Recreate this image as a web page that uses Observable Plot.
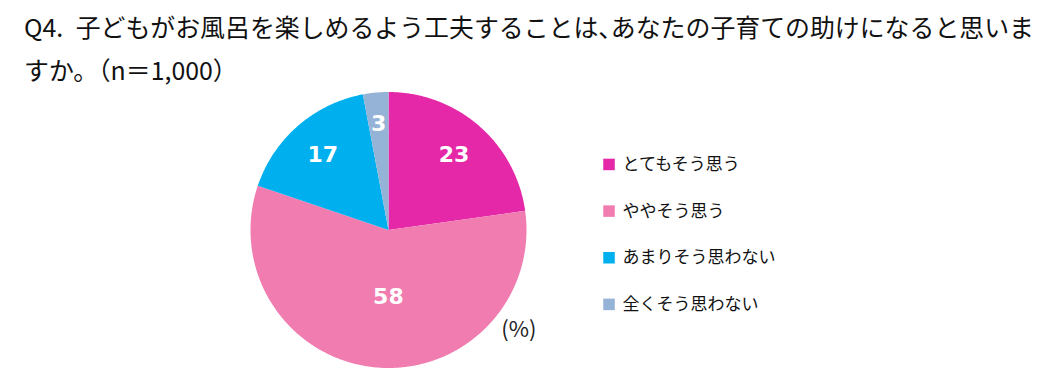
<!DOCTYPE html>
<html><head><meta charset="utf-8">
<script src="https://cdn.jsdelivr.net/npm/d3@7"></script>
<script src="https://cdn.jsdelivr.net/npm/@observablehq/plot@0.6"></script>
<style>
html,body{margin:0;padding:0;background:#fff;}
#title{font-family:"Noto Sans CJK JP","Noto Sans",sans-serif;font-size:24.9px;line-height:43px;color:#111;padding:5px 0 0 24px;height:85px;white-space:pre;box-sizing:content-box;}
#title .h{font-feature-settings:"halt";}
</style>
</head><body>
<div id="title"></div>
<div id="chart"></div>
<script>
const titleLines = ["Q4.\u2002子どもがお風呂を楽しめるよう工夫することは、あなたの子育ての助けになると思いま", "すか。（n＝1,000）"];
const categories = ["とてもそう思う", "ややそう思う", "あまりそう思わない", "全くそう思わない"];
const values = [23, 58, 17, 3];
const colors = ["#E528A8", "#F07CB0", "#00B0EE", "#95B3D7"];
const unitLabel = "(%)";

const esc = s => s.replace(/&/g, "&amp;").replace(/</g, "&lt;");
document.getElementById("title").innerHTML = titleLines
  .map(t => `<div>${esc(t).replace(/、/g, '<span class="h">、</span>')}</div>`).join("");

const arcs = d3.pie().sort(null).value(d => d)(values);
const slices = [];
arcs.forEach((a, i) => {
  slices.push({cat: categories[i], x: 0, y: 0});
  const n = Math.max(2, Math.ceil((a.endAngle - a.startAngle) / (Math.PI / 360)));
  for (let k = 0; k <= n; k++) {
    const t = a.startAngle + (a.endAngle - a.startAngle) * k / n;
    slices.push({cat: categories[i], x: Math.sin(t), y: Math.cos(t)});
  }
});
const labelR = [0.725, 0.49, 0.725, 0.77];
const labelShift = [0, 0.045, 0, 0];
const labels = arcs.map((a, i) => {
  const m = (a.startAngle + a.endAngle) / 2;
  return {text: String(values[i]), x: labelR[i] * Math.sin(m) + labelShift[i], y: labelR[i] * Math.cos(m)};
});
const legend = categories.map((c, i) => ({cat: c, y: 0.475 - 0.338 * i}));

const cx = 388, cy = 139.5, R = 138;
const chart = Plot.plot({
  width: 1057, height: 300,
  margin: 0,
  x: {domain: [-1, 1], range: [cx - R, cx + R], axis: null},
  y: {domain: [-1, 1], range: [cy + R, cy - R], axis: null},
  color: {domain: categories, range: colors},
  style: {fontFamily: "'Noto Sans CJK JP', 'Noto Sans', sans-serif", background: "#fff"},
  marks: [
    Plot.line(slices, {x: "x", y: "y", z: "cat", fill: "cat", stroke: null, curve: "linear-closed"}),
    Plot.text(labels, {x: "x", y: "y", text: "text", fill: "white", fontSize: 22, fontWeight: "bold", fontFamily: "'DejaVu Sans', sans-serif"}),
    Plot.dot(legend, {x: () => 1.598, y: "y", fill: "cat", symbol: "square", r: 6.5, stroke: null}),
    Plot.text(legend, {x: () => 1.696, y: "y", text: "cat", textAnchor: "start", fontSize: 17, fill: "#111"}),
    Plot.text([unitLabel], {x: () => 0.945, y: () => -0.721, text: d => d, fontSize: 22, fill: "#222"})
  ]
});
document.getElementById("chart").appendChild(chart);
</script>
</body></html>
